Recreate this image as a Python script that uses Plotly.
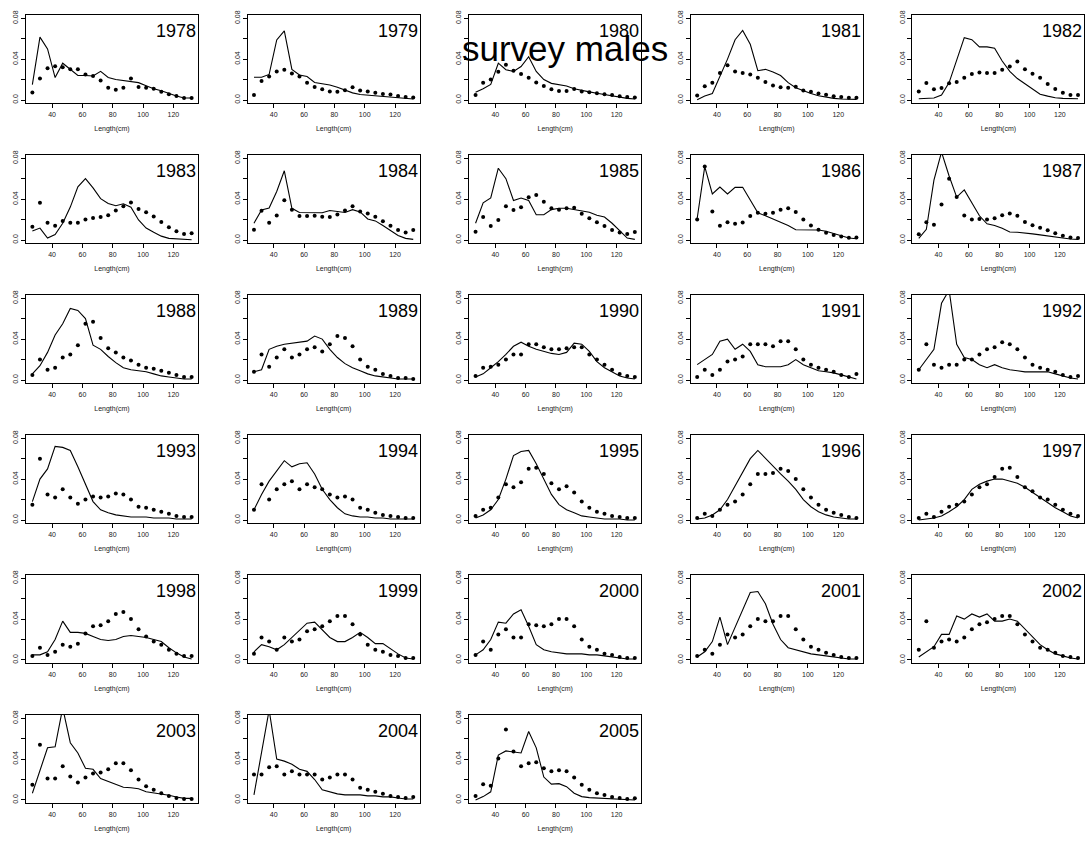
import plotly.graph_objects as go

# length bins (cm)
lengths = list(range(27, 133, 5))
years = list(range(1978, 2006))

# observed (dots) and predicted (line) proportions per year
obs_1978 = [0.0073, 0.021, 0.031, 0.033, 0.032, 0.030, 0.030, 0.025, 0.0235, 0.019, 0.012, 0.010, 0.012, 0.021, 0.0128, 0.012, 0.011, 0.008, 0.0057, 0.004, 0.002, 0.002]
pred_1978 = [0.015, 0.0615, 0.050, 0.022, 0.036, 0.030, 0.024, 0.024, 0.0235, 0.028, 0.022, 0.020, 0.019, 0.0185, 0.017, 0.014, 0.011, 0.009, 0.0064, 0.004, 0.002, 0.002]
obs_1979 = [0.005, 0.0185, 0.023, 0.028, 0.0297, 0.026, 0.023, 0.017, 0.0128, 0.0105, 0.0083, 0.008, 0.0096, 0.0125, 0.0093, 0.0083, 0.007, 0.006, 0.0054, 0.004, 0.003, 0.0025]
pred_1979 = [0.0223, 0.0223, 0.025, 0.0587, 0.0676, 0.030, 0.0245, 0.023, 0.0172, 0.016, 0.0147, 0.0125, 0.010, 0.007, 0.0054, 0.0048, 0.0045, 0.0038, 0.0032, 0.0026, 0.0016, 0.001]
obs_1980 = [0.0048, 0.017, 0.020, 0.0277, 0.0344, 0.0287, 0.0255, 0.0217, 0.0172, 0.0137, 0.0105, 0.0089, 0.0089, 0.0108, 0.0083, 0.0077, 0.0067, 0.0057, 0.0048, 0.0038, 0.0029, 0.0025]
pred_1980 = [0.0077, 0.011, 0.0153, 0.036, 0.0296, 0.028, 0.0328, 0.0424, 0.028, 0.020, 0.0163, 0.0147, 0.0137, 0.011, 0.0092, 0.008, 0.0067, 0.0054, 0.0041, 0.0025, 0.0016, 0.001]
obs_1981 = [0.0045, 0.0134, 0.017, 0.0265, 0.034, 0.028, 0.0265, 0.025, 0.0217, 0.0175, 0.0143, 0.0124, 0.012, 0.013, 0.0092, 0.008, 0.0064, 0.0051, 0.0038, 0.0029, 0.0022, 0.0022]
pred_1981 = [0.0003, 0.004, 0.0064, 0.023, 0.040, 0.059, 0.068, 0.0545, 0.0287, 0.030, 0.0274, 0.024, 0.017, 0.012, 0.0089, 0.0064, 0.0041, 0.0025, 0.0016, 0.001, 0.0006, 0.0006]
obs_1982 = [0.0083, 0.0166, 0.0105, 0.0118, 0.0163, 0.0175, 0.0217, 0.0255, 0.027, 0.0265, 0.0265, 0.0296, 0.0328, 0.0376, 0.030, 0.0258, 0.0217, 0.0156, 0.0108, 0.007, 0.0048, 0.0048]
pred_1982 = [0.0013, 0.0013, 0.002, 0.0048, 0.017, 0.039, 0.061, 0.059, 0.052, 0.052, 0.0506, 0.0382, 0.028, 0.021, 0.016, 0.0108, 0.0057, 0.0038, 0.0022, 0.0016, 0.0013, 0.0013]
obs_1983 = [0.013, 0.0364, 0.017, 0.0139, 0.0187, 0.017, 0.017, 0.020, 0.0215, 0.0225, 0.0243, 0.0288, 0.033, 0.0367, 0.0304, 0.0272, 0.023, 0.0177, 0.0126, 0.0085, 0.006, 0.0066]
pred_1983 = [0.0089, 0.0117, 0.0019, 0.0054, 0.0164, 0.0322, 0.052, 0.060, 0.051, 0.0405, 0.0357, 0.0335, 0.0354, 0.032, 0.0196, 0.0117, 0.0076, 0.0038, 0.0016, 0.001, 0.0006, 0.0003]
obs_1984 = [0.0101, 0.0285, 0.0168, 0.024, 0.039, 0.0297, 0.0234, 0.0234, 0.0237, 0.0228, 0.0225, 0.025, 0.0288, 0.033, 0.028, 0.026, 0.0228, 0.0183, 0.0139, 0.0098, 0.0073, 0.0098]
pred_1984 = [0.0164, 0.0294, 0.0313, 0.0474, 0.0677, 0.031, 0.0269, 0.0266, 0.0269, 0.0266, 0.0288, 0.0275, 0.0269, 0.0297, 0.0275, 0.0206, 0.0187, 0.0142, 0.0089, 0.0044, 0.0016, 0.0006]
obs_1985 = [0.0082, 0.0225, 0.0136, 0.0196, 0.033, 0.0294, 0.032, 0.0417, 0.044, 0.0373, 0.031, 0.0297, 0.031, 0.0316, 0.0256, 0.0212, 0.0174, 0.0136, 0.0098, 0.0073, 0.006, 0.0079]
pred_1985 = [0.0164, 0.0364, 0.0411, 0.0702, 0.060, 0.0386, 0.0411, 0.0386, 0.0247, 0.0247, 0.0297, 0.031, 0.031, 0.0297, 0.028, 0.0272, 0.0243, 0.0225, 0.0164, 0.0089, 0.0019, 0.0006]
obs_1986 = [0.020, 0.0718, 0.028, 0.0139, 0.0174, 0.0158, 0.0171, 0.0234, 0.0266, 0.0256, 0.0266, 0.0297, 0.031, 0.0275, 0.020, 0.0142, 0.0101, 0.007, 0.005, 0.0035, 0.0022, 0.0025]
pred_1986 = [0.021, 0.0718, 0.045, 0.0518, 0.045, 0.0515, 0.0515, 0.0395, 0.0266, 0.0237, 0.0206, 0.0174, 0.0142, 0.0101, 0.0098, 0.0098, 0.0098, 0.0085, 0.0063, 0.0044, 0.0019, 0.0013]
obs_1987 = [0.0057, 0.0174, 0.0149, 0.0348, 0.060, 0.042, 0.024, 0.020, 0.0206, 0.020, 0.0212, 0.0243, 0.026, 0.0237, 0.0177, 0.0145, 0.012, 0.0095, 0.0066, 0.0041, 0.0025, 0.0019]
pred_1987 = [0.0016, 0.0104, 0.0585, 0.086, 0.0626, 0.042, 0.049, 0.0364, 0.0237, 0.0158, 0.0142, 0.0114, 0.0079, 0.0076, 0.007, 0.006, 0.005, 0.0038, 0.0028, 0.0019, 0.001, 0.0006]
obs_1988 = [0.005, 0.020, 0.010, 0.012, 0.022, 0.025, 0.034, 0.055, 0.057, 0.041, 0.031, 0.027, 0.022, 0.019, 0.015, 0.012, 0.011, 0.009, 0.007, 0.005, 0.003, 0.003]
pred_1988 = [0.006, 0.014, 0.027, 0.044, 0.055, 0.070, 0.068, 0.060, 0.034, 0.030, 0.023, 0.017, 0.012, 0.010, 0.009, 0.008, 0.006, 0.004, 0.003, 0.002, 0.001, 0.001]
obs_1989 = [0.008, 0.025, 0.013, 0.022, 0.030, 0.022, 0.025, 0.030, 0.032, 0.028, 0.035, 0.043, 0.041, 0.033, 0.020, 0.013, 0.010, 0.006, 0.004, 0.002, 0.002, 0.001]
pred_1989 = [0.008, 0.010, 0.030, 0.033, 0.035, 0.036, 0.037, 0.038, 0.043, 0.040, 0.030, 0.022, 0.016, 0.012, 0.009, 0.006, 0.004, 0.003, 0.002, 0.001, 0.001, 0.001]
obs_1990 = [0.004, 0.012, 0.013, 0.015, 0.020, 0.025, 0.025, 0.035, 0.035, 0.032, 0.030, 0.030, 0.031, 0.032, 0.032, 0.025, 0.020, 0.015, 0.010, 0.006, 0.004, 0.003]
pred_1990 = [0.003, 0.006, 0.012, 0.018, 0.025, 0.033, 0.037, 0.033, 0.030, 0.028, 0.026, 0.025, 0.027, 0.036, 0.035, 0.028, 0.018, 0.012, 0.008, 0.004, 0.002, 0.001]
obs_1991 = [0.003, 0.010, 0.005, 0.010, 0.018, 0.020, 0.023, 0.035, 0.035, 0.035, 0.033, 0.038, 0.038, 0.030, 0.020, 0.015, 0.012, 0.010, 0.008, 0.005, 0.003, 0.006]
pred_1991 = [0.015, 0.020, 0.025, 0.038, 0.040, 0.030, 0.035, 0.028, 0.015, 0.013, 0.013, 0.013, 0.015, 0.020, 0.015, 0.012, 0.009, 0.008, 0.007, 0.005, 0.003, 0.001]
obs_1992 = [0.010, 0.035, 0.015, 0.012, 0.015, 0.015, 0.020, 0.020, 0.025, 0.030, 0.032, 0.037, 0.035, 0.030, 0.022, 0.015, 0.012, 0.010, 0.008, 0.005, 0.003, 0.004]
pred_1992 = [0.010, 0.020, 0.030, 0.075, 0.088, 0.035, 0.022, 0.020, 0.015, 0.012, 0.015, 0.012, 0.010, 0.009, 0.008, 0.008, 0.008, 0.008, 0.006, 0.004, 0.002, 0.001]
obs_1993 = [0.015, 0.060, 0.025, 0.022, 0.030, 0.022, 0.016, 0.020, 0.023, 0.022, 0.023, 0.026, 0.025, 0.020, 0.013, 0.012, 0.010, 0.008, 0.006, 0.004, 0.003, 0.003]
pred_1993 = [0.018, 0.040, 0.050, 0.072, 0.071, 0.068, 0.052, 0.035, 0.018, 0.010, 0.007, 0.005, 0.004, 0.003, 0.003, 0.003, 0.002, 0.002, 0.002, 0.001, 0.001, 0.001]
obs_1994 = [0.010, 0.035, 0.020, 0.030, 0.035, 0.038, 0.030, 0.035, 0.032, 0.030, 0.025, 0.022, 0.023, 0.020, 0.012, 0.010, 0.007, 0.005, 0.004, 0.003, 0.002, 0.002]
pred_1994 = [0.010, 0.025, 0.038, 0.048, 0.058, 0.052, 0.055, 0.056, 0.045, 0.030, 0.020, 0.012, 0.006, 0.004, 0.003, 0.003, 0.002, 0.002, 0.001, 0.001, 0.001, 0.001]
obs_1995 = [0.004, 0.010, 0.012, 0.022, 0.035, 0.032, 0.037, 0.050, 0.051, 0.045, 0.036, 0.030, 0.033, 0.027, 0.018, 0.012, 0.008, 0.006, 0.004, 0.003, 0.002, 0.002]
pred_1995 = [0.002, 0.005, 0.010, 0.020, 0.040, 0.063, 0.067, 0.068, 0.055, 0.040, 0.025, 0.015, 0.010, 0.007, 0.004, 0.003, 0.002, 0.001, 0.001, 0.001, 0.0, 0.0]
obs_1996 = [0.002, 0.006, 0.004, 0.010, 0.015, 0.018, 0.025, 0.035, 0.045, 0.045, 0.046, 0.050, 0.048, 0.040, 0.030, 0.022, 0.015, 0.010, 0.007, 0.005, 0.003, 0.002]
pred_1996 = [0.001, 0.002, 0.005, 0.010, 0.020, 0.033, 0.047, 0.060, 0.068, 0.060, 0.052, 0.045, 0.038, 0.030, 0.020, 0.013, 0.008, 0.005, 0.003, 0.002, 0.001, 0.001]
obs_1997 = [0.002, 0.006, 0.003, 0.008, 0.013, 0.015, 0.018, 0.025, 0.032, 0.035, 0.042, 0.050, 0.051, 0.042, 0.032, 0.028, 0.022, 0.020, 0.015, 0.010, 0.006, 0.004]
pred_1997 = [0.0, 0.001, 0.002, 0.004, 0.008, 0.013, 0.020, 0.030, 0.035, 0.038, 0.040, 0.040, 0.038, 0.036, 0.032, 0.027, 0.022, 0.017, 0.012, 0.008, 0.004, 0.002]
obs_1998 = [0.004, 0.012, 0.005, 0.008, 0.015, 0.013, 0.016, 0.026, 0.033, 0.034, 0.038, 0.045, 0.047, 0.040, 0.030, 0.023, 0.018, 0.015, 0.010, 0.006, 0.004, 0.004]
pred_1998 = [0.005, 0.005, 0.008, 0.020, 0.038, 0.027, 0.027, 0.026, 0.023, 0.020, 0.019, 0.020, 0.023, 0.024, 0.023, 0.022, 0.020, 0.018, 0.012, 0.007, 0.003, 0.001]
obs_1999 = [0.006, 0.022, 0.018, 0.010, 0.022, 0.018, 0.020, 0.028, 0.030, 0.033, 0.038, 0.043, 0.043, 0.035, 0.025, 0.015, 0.010, 0.008, 0.005, 0.004, 0.002, 0.002]
pred_1999 = [0.008, 0.015, 0.013, 0.010, 0.015, 0.022, 0.028, 0.036, 0.037, 0.030, 0.022, 0.018, 0.018, 0.022, 0.027, 0.022, 0.016, 0.016, 0.011, 0.006, 0.002, 0.001]
obs_2000 = [0.005, 0.018, 0.010, 0.025, 0.030, 0.022, 0.022, 0.035, 0.034, 0.033, 0.035, 0.040, 0.040, 0.033, 0.020, 0.013, 0.010, 0.006, 0.005, 0.003, 0.002, 0.002]
pred_2000 = [0.005, 0.010, 0.020, 0.037, 0.036, 0.045, 0.049, 0.033, 0.015, 0.010, 0.008, 0.007, 0.006, 0.006, 0.006, 0.005, 0.005, 0.004, 0.003, 0.002, 0.001, 0.001]
obs_2001 = [0.004, 0.010, 0.006, 0.015, 0.025, 0.022, 0.025, 0.033, 0.040, 0.038, 0.038, 0.043, 0.043, 0.030, 0.020, 0.013, 0.010, 0.007, 0.005, 0.003, 0.002, 0.002]
pred_2001 = [0.003, 0.008, 0.018, 0.042, 0.015, 0.032, 0.050, 0.066, 0.067, 0.055, 0.035, 0.020, 0.012, 0.010, 0.008, 0.006, 0.005, 0.004, 0.003, 0.002, 0.001, 0.001]
obs_2002 = [0.010, 0.038, 0.012, 0.018, 0.020, 0.018, 0.022, 0.030, 0.035, 0.037, 0.040, 0.043, 0.043, 0.035, 0.025, 0.018, 0.012, 0.010, 0.007, 0.004, 0.003, 0.002]
pred_2002 = [0.003, 0.008, 0.013, 0.025, 0.025, 0.043, 0.040, 0.045, 0.042, 0.045, 0.038, 0.038, 0.040, 0.038, 0.030, 0.022, 0.015, 0.010, 0.006, 0.004, 0.002, 0.001]
obs_2003 = [0.015, 0.054, 0.021, 0.021, 0.033, 0.023, 0.017, 0.022, 0.026, 0.027, 0.030, 0.036, 0.036, 0.029, 0.020, 0.0135, 0.010, 0.0066, 0.004, 0.002, 0.001, 0.001]
pred_2003 = [0.0066, 0.030, 0.051, 0.052, 0.090, 0.056, 0.046, 0.031, 0.030, 0.021, 0.018, 0.015, 0.0125, 0.012, 0.011, 0.008, 0.007, 0.006, 0.0046, 0.003, 0.0016, 0.0016]
obs_2004 = [0.025, 0.025, 0.032, 0.033, 0.025, 0.028, 0.025, 0.025, 0.025, 0.020, 0.022, 0.025, 0.025, 0.020, 0.012, 0.010, 0.008, 0.006, 0.004, 0.003, 0.002, 0.003]
pred_2004 = [0.005, 0.045, 0.088, 0.040, 0.038, 0.035, 0.030, 0.028, 0.020, 0.010, 0.008, 0.006, 0.005, 0.005, 0.005, 0.004, 0.004, 0.003, 0.003, 0.002, 0.001, 0.001]
obs_2005 = [0.004, 0.0155, 0.014, 0.0405, 0.069, 0.0474, 0.033, 0.036, 0.037, 0.031, 0.028, 0.029, 0.028, 0.022, 0.015, 0.010, 0.0066, 0.005, 0.003, 0.002, 0.001, 0.0016]
pred_2005 = [0.0, 0.0033, 0.008, 0.044, 0.048, 0.047, 0.046, 0.067, 0.051, 0.0224, 0.0155, 0.016, 0.013, 0.0066, 0.0033, 0.0023, 0.002, 0.0016, 0.0013, 0.001, 0.0003, 0.0]

observed = [obs_1978, obs_1979, obs_1980, obs_1981, obs_1982, obs_1983, obs_1984,
            obs_1985, obs_1986, obs_1987, obs_1988, obs_1989, obs_1990, obs_1991,
            obs_1992, obs_1993, obs_1994, obs_1995, obs_1996, obs_1997, obs_1998,
            obs_1999, obs_2000, obs_2001, obs_2002, obs_2003, obs_2004, obs_2005]
predicted = [pred_1978, pred_1979, pred_1980, pred_1981, pred_1982, pred_1983, pred_1984,
             pred_1985, pred_1986, pred_1987, pred_1988, pred_1989, pred_1990, pred_1991,
             pred_1992, pred_1993, pred_1994, pred_1995, pred_1996, pred_1997, pred_1998,
             pred_1999, pred_2000, pred_2001, pred_2002, pred_2003, pred_2004, pred_2005]

W, H = 1087, 841
FONT = "Liberation Sans, Arial, sans-serif"

fig = go.Figure()
layout = dict(width=W, height=H, margin=dict(l=0, r=0, t=0, b=0),
              paper_bgcolor="white", plot_bgcolor="white",
              showlegend=False, font=dict(family=FONT, color="black"))
annotations = []

for i, yr in enumerate(years):
    n = i + 1
    r, c = divmod(i, 5)
    left = 26 + 221.6 * c
    top = 10 + 141 * r
    xd = [left / W, (left + 172) / W]
    yd = [1 - (top + 89) / H, 1 - top / H]
    xa = "x" if n == 1 else f"x{n}"
    ya = "y" if n == 1 else f"y{n}"

    fig.add_trace(go.Scatter(x=lengths, y=predicted[i], mode="lines",
                             line=dict(color="black", width=1.1),
                             xaxis=xa, yaxis=ya, hoverinfo="skip"))
    fig.add_trace(go.Scatter(x=lengths, y=observed[i], mode="markers",
                             marker=dict(color="black", size=4),
                             xaxis=xa, yaxis=ya, cliponaxis=True))

    layout[f"xaxis{'' if n == 1 else n}"] = dict(
        domain=xd, anchor=ya, range=[22.8, 136.2],
        tickvals=[40, 60, 80, 100, 120], ticks="outside", ticklen=4,
        tickcolor="black", tickfont=dict(size=7, color="#222"),
        showline=True, mirror=True, linecolor="black", linewidth=1,
        showgrid=False, zeroline=False,
        title=dict(text="Length(cm)", font=dict(size=7, color="#222"), standoff=9))
    layout[f"yaxis{'' if n == 1 else n}"] = dict(
        domain=yd, anchor=xa, range=[-0.0032, 0.0832],
        tickvals=[0, 0.02, 0.04, 0.06, 0.08],
        ticktext=["0.0", "", "0.04", "", "0.08"], tickangle=-90,
        ticks="outside", ticklen=4, tickcolor="black",
        tickfont=dict(size=7, color="#222"),
        showline=True, mirror=True, linecolor="black", linewidth=1,
        showgrid=False, zeroline=False)

    annotations.append(dict(text=str(yr), xref=f"{xa} domain", yref=f"{ya} domain",
                            x=1.0, y=0.82, xanchor="right", yanchor="middle",
                            showarrow=False, font=dict(size=18, color="black")))

annotations.append(dict(text="survey males", xref="paper", yref="paper",
                        x=565 / W, y=1 - 44 / H, xanchor="center", yanchor="middle",
                        showarrow=False, font=dict(size=35, color="black")))
layout["annotations"] = annotations
fig.update_layout(**layout)

# drop the default page margin so the figure sits at the window's top-left corner
fig.write_html("out.html", config={"displayModeBar": False},
               post_script="document.body.style.margin='0';document.body.style.overflow='hidden';")
